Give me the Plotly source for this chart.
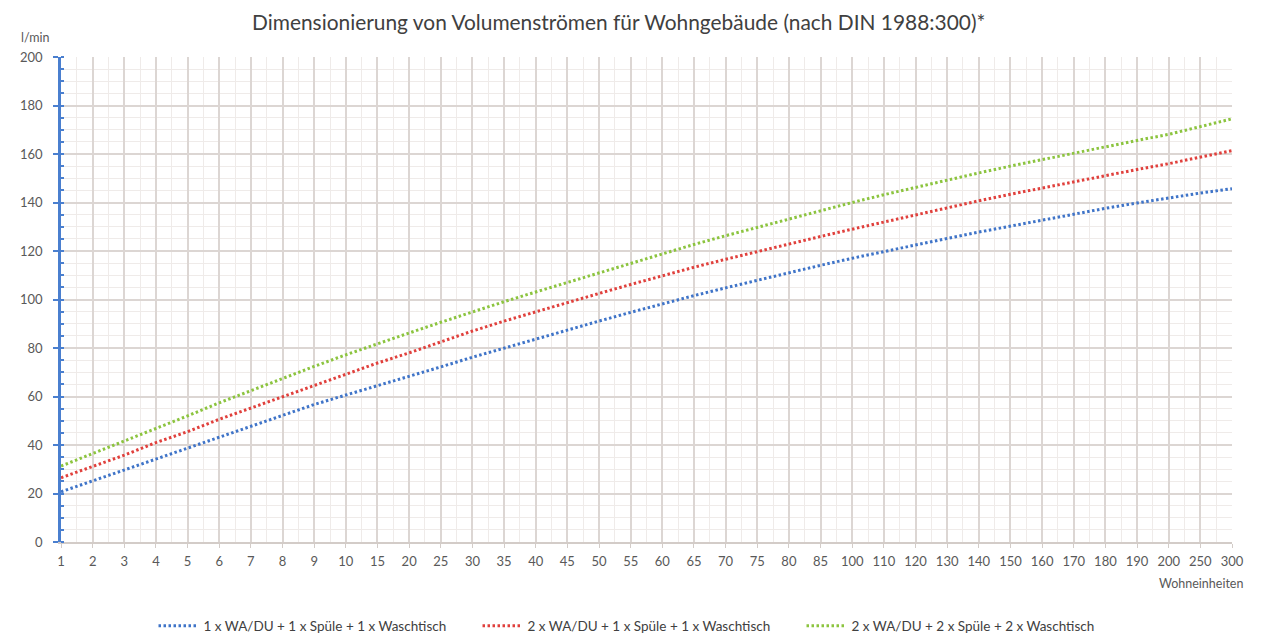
import plotly.graph_objects as go

categories = ["1", "2", "3", "4", "5", "6", "7", "8", "9", "10",
              "15", "20", "25", "30", "35", "40", "45", "50", "55", "60",
              "65", "70", "75", "80", "85", "100", "110", "120", "130", "140",
              "150", "160", "170", "180", "190", "200", "250", "300"]

blue = [20.7, 25.2, 29.7, 34.3, 38.9, 43.3, 47.9, 52.5, 56.7, 60.6,
        64.4, 68.2, 72.2, 76.2, 80.0, 83.7, 87.4, 91.1, 94.7, 98.2,
        101.6, 104.8, 108.0, 111.1, 114.1, 117.0, 119.8, 122.5, 125.2, 127.8,
        130.3, 132.8, 135.2, 137.6, 139.8, 141.9, 143.9, 145.7]

red = [26.5, 31.3, 35.8, 41.0, 45.5, 50.6, 55.2, 60.0, 64.7, 69.3,
       73.8, 78.0, 82.6, 87.0, 91.1, 95.0, 98.7, 102.5, 106.2, 109.8,
       113.3, 116.6, 119.8, 122.9, 126.0, 129.0, 132.0, 135.0, 137.9, 140.7,
       143.4, 146.0, 148.6, 151.1, 153.6, 156.0, 158.8, 161.4]

green = [31.3, 36.4, 41.6, 46.8, 52.0, 57.4, 62.5, 67.5, 72.4, 77.2,
         81.8, 86.2, 90.6, 95.0, 99.1, 103.1, 107.0, 111.0, 115.0, 118.9,
         122.7, 126.3, 129.8, 133.3, 136.7, 140.0, 143.2, 146.3, 149.3, 152.2,
         155.0, 157.7, 160.4, 163.0, 165.6, 168.1, 171.3, 174.5]

series_names = ["1 x WA/DU + 1 x Spüle + 1 x Waschtisch",
                "2 x WA/DU + 1 x Spüle + 1 x Waschtisch",
                "2 x WA/DU + 2 x Spüle + 2 x Waschtisch"]
series_colors = ["#3f74c8", "#e0403c", "#8cc43f"]

y_ticks = [0, 20, 40, 60, 80, 100, 120, 140, 160, 180, 200]

FONT = "Lato"
idx = list(range(len(categories)))

fig = go.Figure()
for name, vals, color in zip(series_names, [blue, red, green], series_colors):
    fig.add_trace(go.Scatter(
        x=idx, y=vals, mode="lines", name=name,
        line=dict(color=color, width=3, dash="2.5px,2.5px"),
    ))

fig.update_layout(
    width=1254, height=634,
    paper_bgcolor="white", plot_bgcolor="white",
    margin=dict(l=44, r=30, t=49, b=100),
    font=dict(family=FONT, color="#595959", size=13),
    title=dict(text="Dimensionierung von Volumenströmen für Wohngebäude (nach DIN 1988:300)*",
               x=0.487, xanchor="center", y=0.977, yanchor="middle",
               font=dict(family=FONT, size=20.9, color="#404040")),
    showlegend=True,
    legend=dict(orientation="h", xref="paper", x=0.079, xanchor="left",
                yref="container", y=0.0252, yanchor="middle",
                font=dict(family=FONT, size=13.5, color="#404040"),
                itemwidth=40, entrywidth=269, entrywidthmode="pixels"),
    annotations=[
        dict(text="l/min", xref="paper", yref="paper", x=-0.036, y=1.041,
             xanchor="left", yanchor="middle", showarrow=False,
             font=dict(family=FONT, size=12.5, color="#595959")),
        dict(text="Wohneinheiten", xref="paper", yref="paper", x=1.011, y=-0.085,
             xanchor="right", yanchor="middle", showarrow=False,
             font=dict(family=FONT, size=12.5, color="#595959")),
    ],
)

fig.update_xaxes(
    range=[0, len(categories) - 1],
    tickmode="array", tickvals=idx, ticktext=categories,
    showgrid=True, gridcolor="#dcd6d3", gridwidth=1.5,
    showline=True, linecolor="#d3ccc8", linewidth=1.5,
    ticks="outside", ticklen=4, tickcolor="#d3ccc8",
    ticklabelstandoff=3,
    tickfont=dict(family=FONT, size=13, color="#595959"),
    zeroline=False,
    minor=dict(dtick=0.5, tick0=0, showgrid=True, gridcolor="#efebe9", gridwidth=1),
)

fig.update_yaxes(
    range=[0, 200],
    tickmode="array", tickvals=y_ticks,
    showgrid=True, gridcolor="#dcd6d3", gridwidth=1.5,
    showline=True, linecolor="#4a7fcf", linewidth=2.5,
    ticks="outside", ticklen=5, tickcolor="#4a7fcf", tickwidth=2,
    ticklabelstandoff=8,
    tickfont=dict(family=FONT, size=13, color="#595959"),
    zeroline=False,
    minor=dict(dtick=5, tick0=0, showgrid=True, gridcolor="#efebe9", gridwidth=1,
               ticks="inside", ticklen=3, tickcolor="#4a7fcf", tickwidth=1.5),
)

fig.write_html("out.html")
